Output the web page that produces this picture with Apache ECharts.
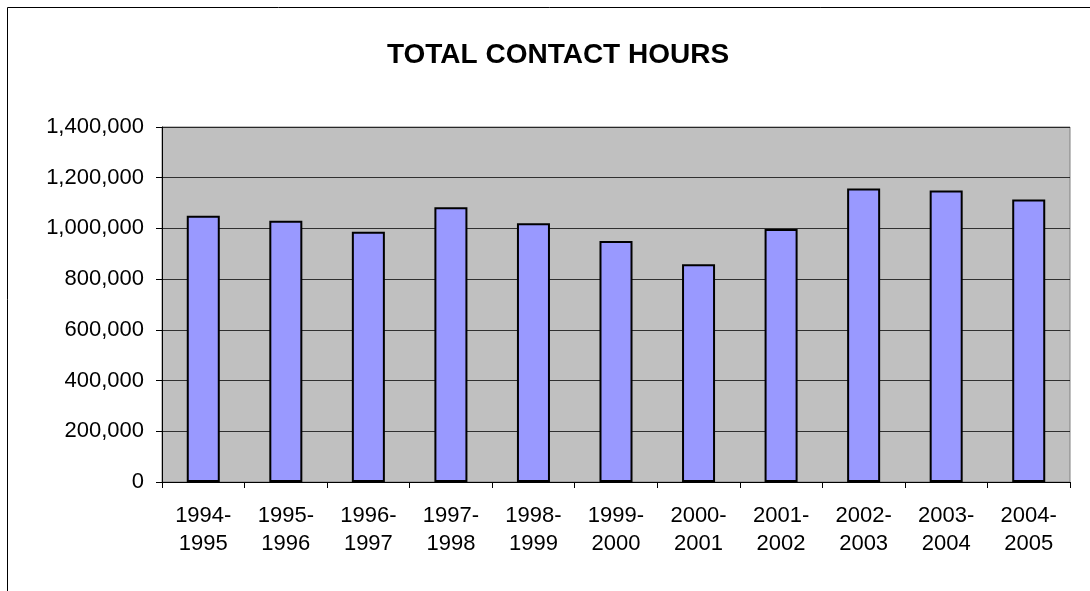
<!DOCTYPE html>
<html>
<head>
<meta charset="utf-8">
<script src="https://cdn.jsdelivr.net/npm/echarts@6/dist/echarts.min.js"></script>
<style>
    html, body { margin: 0; padding: 0; background: #fff; }
    #chart { width: 1090px; height: 591px; }
</style>
</head>
<body>
<div id="chart"></div>
<script>
// season labels on the x axis
var seasons = ['1994-\n1995', '1995-\n1996', '1996-\n1997', '1997-\n1998', '1998-\n1999',
    '1999-\n2000', '2000-\n2001', '2001-\n2002', '2002-\n2003', '2003-\n2004', '2004-\n2005'];

// total contact hours per season
var contactHours = [1050000, 1030000, 987000, 1084000, 1020000,
    950000, 859000, 998000, 1157000, 1150000, 1114000];

// y axis range
var yMin = 0;
var yMax = 1400000;
var yStep = 200000;

var chart = echarts.init(document.getElementById('chart'));

chart.setOption({
    animation: false,
    textStyle: { fontFamily: 'Liberation Sans, Arial, sans-serif' },
    title: {
        text: 'TOTAL CONTACT HOURS',
        left: 553,
        textAlign: 'center',
        top: 36,
        textStyle: { fontSize: 28, fontWeight: 'bold', color: '#000' }
    },
    graphic: [{
        type: 'rect',
        shape: { x: 7.5, y: 7.5, width: 1200, height: 700 },
        style: { fill: 'none', stroke: '#000', lineWidth: 1 },
        z: 100
    }],
    grid: {
        left: 162,
        right: 20,
        top: 127,
        bottom: 109,
        show: true,
        backgroundColor: '#c0c0c0',
        borderColor: '#808080',
        borderWidth: 1
    },
    xAxis: {
        type: 'category',
        data: seasons,
        axisLine: { lineStyle: { color: '#000', width: 1 } },
        axisTick: { show: true, alignWithLabel: false, length: 6, lineStyle: { color: '#000' } },
        axisLabel: { color: '#000', fontSize: 22, lineHeight: 28, margin: 20 }
    },
    yAxis: {
        type: 'value',
        min: yMin,
        max: yMax,
        interval: yStep,
        axisLine: { show: true, lineStyle: { color: '#000', width: 1 } },
        axisTick: { show: true, length: 6, lineStyle: { color: '#000' } },
        axisLabel: {
            color: '#000',
            fontSize: 22,
            margin: 18,
            formatter: function (v) { return v.toLocaleString('en-US'); }
        },
        splitLine: { show: true, lineStyle: { color: '#000', width: 1, opacity: 0.75 } }
    },
    series: [{
        type: 'bar',
        data: contactHours,
        barWidth: '40%',
        itemStyle: { color: '#9999ff', borderColor: '#000', borderWidth: 2 }
    }]
});
</script>
</body>
</html>
